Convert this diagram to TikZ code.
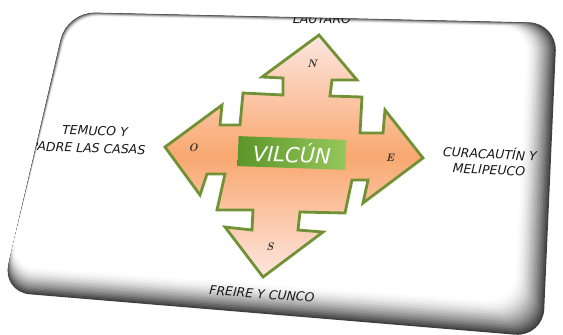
\documentclass[tikz,border=0pt]{standalone}
\usepackage{fontspec}
\newfontfamily\placefont{DejaVu Sans}
\usetikzlibrary{calc}
\definecolor{leafgreen}{RGB}{112,146,52}
\definecolor{peach}{RGB}{249,168,112}
\definecolor{blush}{RGB}{253,230,224}
\definecolor{boxdark}{RGB}{92,150,40}
\definecolor{boxlight}{RGB}{150,200,92}

\begin{document}
\begin{tikzpicture}
[x=1pt,y=-1pt,%
  place/.style={font=\placefont\itshape\fontsize{12.5}{15}\selectfont,inner sep=0.5pt,text=black!90},%
  pole/.style={font=\bfseries\itshape\fontsize{11}{11}\selectfont,text=black!80,inner sep=1pt},%
  compass/.style={draw=leafgreen,line width=2.8pt,line join=miter,%
    top color=blush,bottom color=blush,middle color=peach},%
  namebox/.style={minimum width=108pt,minimum height=30pt,inner sep=0pt,%
    left color=boxdark,right color=boxlight,text=white,%
    font=\placefont\itshape\fontsize{21}{21}\selectfont}]
\useasboundingbox (0,0) rectangle (563,335);
% card corners, outer edge and white face
\coordinate (o1) at (67,12);
\coordinate (o2) at (557,23);
\coordinate (o3) at (543,337);
\coordinate (o4) at (2,292);
\coordinate (i1) at (71,16);
\coordinate (i2) at (528,27);
\coordinate (i3) at (514,302);
\coordinate (i4) at (8,266);
\foreach \i in {0,...,20}
  \fill[black!\fpeval{round(75*((20-\i)/20)^1.6)},rounded corners=28pt]
    ($(o1)!\i/20!(i1)$) -- ($(o2)!\i/20!(i2)$)
    -- ($(o3)!\i/20!(i3)$) -- ($(o4)!\i/20!(i4)$) -- cycle;
% four-way arrow
\draw[compass] (319,35) -- (357,80) -- (332,80) -- (330,96) -- (362,97)
  -- (360,133) -- (383,133) -- (385,110) -- (423,158) -- (363,203)
  -- (368,180) -- (352,180) -- (345,213) -- (300,212) -- (298,230)
  -- (323,232) -- (263,277) -- (225,227) -- (252,230) -- (253,210)
  -- (217,210) -- (225,174) -- (207,174) -- (200,195) -- (165,147)
  -- (222,105) -- (220,125) -- (240,125) -- (243,93) -- (283,95)
  -- (283,78) -- (262,77) -- cycle;
\node[namebox,rotate=-2] (vilcun) at (292,153) {VILCÚN};
\node[pole] (n) at (312,64) {N};
\node[pole] (o) at (193,148) {O};
\node[pole] (e) at (390,158) {E};
\node[pole] (s) at (270,247) {S};
% places, cut by the card edge
\begin{scope}
\clip[rounded corners=28pt] (o1) -- (o2) -- (o3) -- (o4) -- cycle;
\node[place,rotate=-1] (lautaro) at (322,19) {LAUTARO};
\node[place,rotate=-2] (temuco) at (95,131) {TEMUCO Y};
\node[place,rotate=-2] (padre) at (88,148) {PADRE LAS CASAS};
\node[place,rotate=-3] (curacautin) at (490,153) {CURACAUTÍN Y};
\node[place,rotate=-3] (melipeuco) at (489,170) {MELIPEUCO};
\node[place,rotate=-4] (freire) at (262,294) {FREIRE Y CUNCO};
\end{scope}
\end{tikzpicture}
\end{document}
